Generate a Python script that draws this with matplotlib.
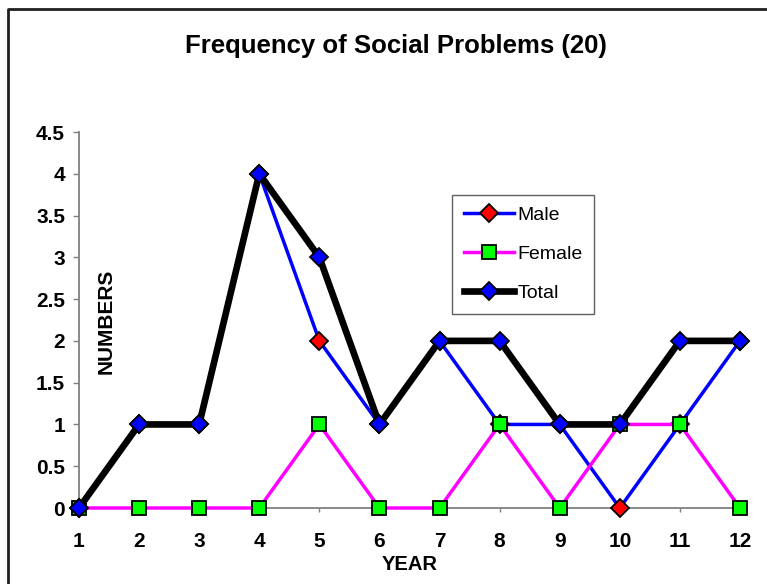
import matplotlib
matplotlib.use("Agg")
import matplotlib.pyplot as plt
from matplotlib.lines import Line2D

plt.rcParams['font.family'] = ['Liberation Sans', 'DejaVu Sans']

years = [1, 2, 3, 4, 5, 6, 7, 8, 9, 10, 11, 12]
year_labels = [str(y) for y in years]
male = [0, 1, 1, 4, 2, 1, 2, 1, 1, 0, 1, 2]
female = [0, 0, 0, 0, 1, 0, 0, 1, 0, 1, 1, 0]
total = [0, 1, 1, 4, 3, 1, 2, 2, 1, 1, 2, 2]
yticks = [0, 0.5, 1, 1.5, 2, 2.5, 3, 3.5, 4, 4.5]
ytick_labels = ['0', '0.5', '1', '1.5', '2', '2.5', '3', '3.5', '4', '4.5']

W, H = 767, 584
fig = plt.figure(figsize=(W / 100, H / 100), dpi=100)
ax = fig.add_axes([79 / W, 1 - 508 / H, (740 - 79) / W, (508 - 132) / H])

ax.plot(years, male, color='#0000ff', lw=2.5, marker='D', ms=9,
        mfc='#ff0000', mec='black', mew=1.3, clip_on=False, zorder=3, label='Male')
ax.plot(years, female, color='#ff00ff', lw=2.5, marker='s', ms=10,
        mfc='#00ff00', mec='black', mew=1.3, clip_on=False, zorder=4, label='Female')
ax.plot(years, total, color='black', lw=4.8, marker='D', ms=9,
        mfc='#0000ff', mec='black', mew=1.3, clip_on=False, zorder=5, label='Total')

ax.set_xlim(1, 12)
ax.set_ylim(0, 4.5)
ax.set_xticks(years)
ax.set_xticklabels(year_labels)
ax.set_yticks(yticks)
ax.set_yticklabels(ytick_labels)
for s in ['top', 'right']:
    ax.spines[s].set_visible(False)
for s in ['left', 'bottom']:
    ax.spines[s].set_color('#808080')
    ax.spines[s].set_linewidth(1.3)
ax.tick_params(axis='y', direction='out', length=4, width=1, color='#808080',
               pad=6, labelsize=15)
ax.tick_params(axis='x', direction='out', length=3, width=1, color='#808080',
               pad=14, labelsize=15)
for lab in ax.get_xticklabels() + ax.get_yticklabels():
    lab.set_fontweight('bold')

leg = ax.legend(loc='upper left', bbox_to_anchor=(452 / W, 1 - 195 / H),
                bbox_transform=fig.transFigure, borderaxespad=0,
                fontsize=14, handlelength=2.6, handletextpad=0.15,
                labelspacing=1.1, borderpad=0.6, fancybox=False,
                framealpha=1, edgecolor='#606060')
leg.get_frame().set_linewidth(1.0)

fig.text(396 / W, 1 - 46 / H, 'Frequency of Social Problems (20)', ha='center',
         va='center', fontsize=18.5, fontweight='bold')
fig.text(410 / W, 1 - 564 / H, 'YEAR', ha='center', va='center',
         fontsize=14.5, fontweight='bold')
fig.text(106 / W, 1 - 321 / H, 'NUMBERS', ha='center', va='center',
         rotation=90, fontsize=15, fontweight='bold')

fig.add_artist(Line2D([8 / W, 8 / W, 1.01], [-0.01, 1 - 9 / H, 1 - 9 / H],
                      transform=fig.transFigure, color='#202020', lw=2))

fig.savefig('out.png', dpi=100)
